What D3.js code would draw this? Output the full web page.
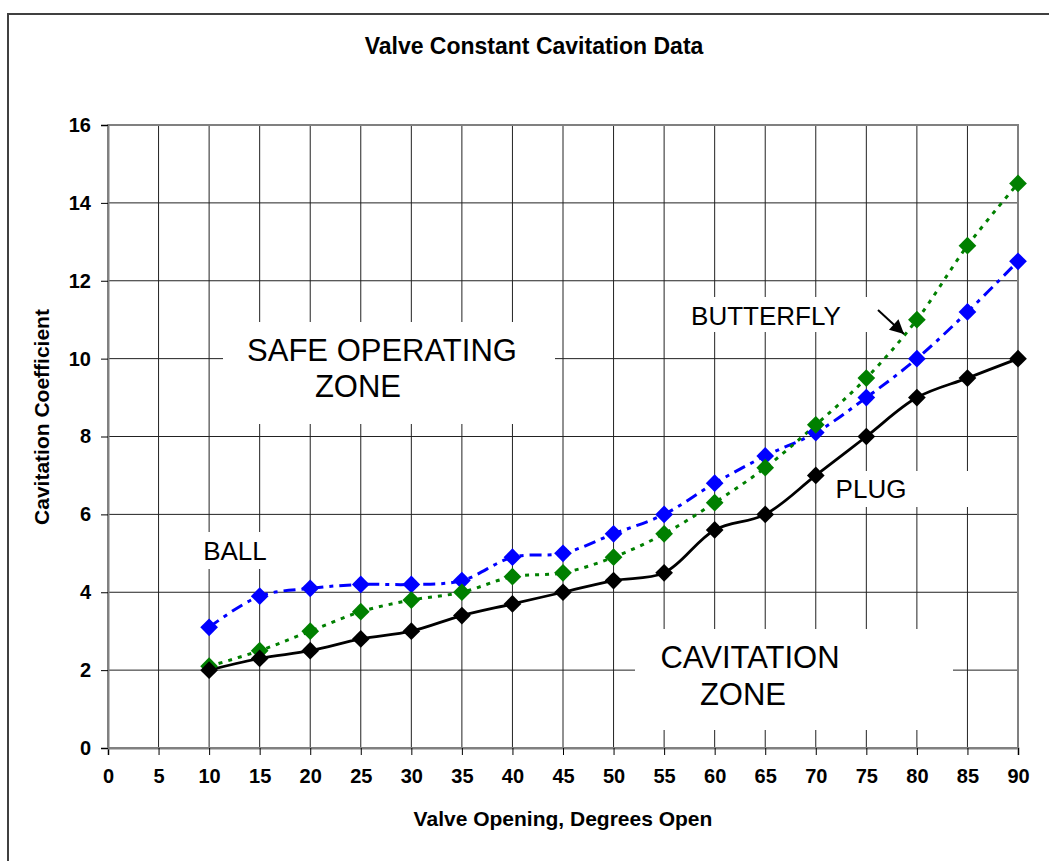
<!DOCTYPE html>
<html>
<head>
<meta charset="utf-8">
<script src="https://cdn.jsdelivr.net/npm/d3@7"></script>
<style>
  body { margin: 0; background: #fff; }
  text { font-family: "Liberation Sans", Arial, sans-serif; }
</style>
</head>
<body>
<div id="chart"></div>
<script>
// Data
const degrees = [10, 15, 20, 25, 30, 35, 40, 45, 50, 55, 60, 65, 70, 75, 80, 85, 90];
const plug = [2.0, 2.3, 2.5, 2.8, 3.0, 3.4, 3.7, 4.0, 4.3, 4.5, 5.6, 6.0, 7.0, 8.0, 9.0, 9.5, 10.0];
const butterfly = [2.1, 2.5, 3.0, 3.5, 3.8, 4.0, 4.4, 4.5, 4.9, 5.5, 6.3, 7.2, 8.3, 9.5, 11.0, 12.9, 14.5];
const ball = [3.1, 3.9, 4.1, 4.2, 4.2, 4.3, 4.9, 5.0, 5.5, 6.0, 6.8, 7.5, 8.1, 9.0, 10.0, 11.2, 12.5];
const xTicks = d3.range(0, 91, 5);
const yTicks = d3.range(0, 17, 2);

const width = 1049, height = 861;
const margin = { top: 125, right: 31, bottom: 113, left: 108 };

const svg = d3.select("#chart")
    .append("svg")
    .attr("width", width)
    .attr("height", height);

// Outer frame (right and bottom edges fall outside the picture)
svg.append("rect")
    .attr("x", 8).attr("y", 14)
    .attr("width", 1100).attr("height", 1000)
    .attr("fill", "none")
    .attr("stroke", "#404040")
    .attr("stroke-width", 2);

const x = d3.scaleLinear().domain([0, 90]).range([margin.left, width - margin.right]);
const y = d3.scaleLinear().domain([0, 16]).range([height - margin.bottom, margin.top]);

// Grid lines
svg.append("g")
    .selectAll("line")
    .data(xTicks.slice(1, -1))
    .enter()
    .append("line")
    .attr("x1", d => x(d)).attr("x2", d => x(d))
    .attr("y1", y(16)).attr("y2", y(0))
    .attr("stroke", "#222")
    .attr("stroke-width", 1);

svg.append("g")
    .selectAll("line")
    .data(yTicks.slice(1, -1))
    .enter()
    .append("line")
    .attr("x1", x(0)).attr("x2", x(90))
    .attr("y1", d => y(d)).attr("y2", d => y(d))
    .attr("stroke", "#222")
    .attr("stroke-width", 1);

// White boxes behind the annotations
const boxes = [
    { x0: 223, y0: 322, x1: 555, y1: 424 },
    { x0: 635, y0: 629, x1: 953, y1: 730 },
    { x0: 680, y0: 297, x1: 874, y1: 332 },
    { x0: 826, y0: 471, x1: 1000, y1: 507 },
    { x0: 180, y0: 532, x1: 290, y1: 569 }
];
svg.append("g")
    .selectAll("rect")
    .data(boxes)
    .enter()
    .append("rect")
    .attr("x", d => d.x0).attr("y", d => d.y0)
    .attr("width", d => d.x1 - d.x0).attr("height", d => d.y1 - d.y0)
    .attr("fill", "#fff");

// Plot border
svg.append("rect")
    .attr("x", x(0)).attr("y", y(16))
    .attr("width", x(90) - x(0)).attr("height", y(0) - y(16))
    .attr("fill", "none")
    .attr("stroke", "#808080")
    .attr("stroke-width", 2);

// Axes
const xAxis = svg.append("g")
    .attr("transform", `translate(0,${y(0)})`)
    .call(d3.axisBottom(x).tickValues(xTicks).tickSize(7).tickPadding(14));
const yAxis = svg.append("g")
    .attr("transform", `translate(${x(0)},0)`)
    .call(d3.axisLeft(y).tickValues(yTicks).tickSize(7).tickPadding(10));

[xAxis, yAxis].forEach(a => {
    a.select(".domain").attr("stroke", "#808080").attr("stroke-width", 2);
    a.selectAll(".tick line").attr("stroke", "#000");
    a.selectAll(".tick text")
        .attr("font-family", "'Liberation Sans', Arial, sans-serif")
        .attr("font-size", 20)
        .attr("font-weight", "bold")
        .attr("fill", "#000");
});

// Series
const series = [
    { name: "Ball", values: ball, color: "#0000ff", dash: "12,6,4,6", width: 3 },
    { name: "Butterfly", values: butterfly, color: "#008000", dash: "4,6", width: 3 },
    { name: "Plug", values: plug, color: "#000000", dash: null, width: 2.8 }
];

const line = d3.line()
    .x((d, i) => x(degrees[i]))
    .y(d => y(d))
    .curve(d3.curveCatmullRom.alpha(0.5));

const diamond = d3.symbol().type(d3.symbolDiamond2).size(200);

series.forEach(s => {
    svg.append("path")
        .datum(s.values)
        .attr("d", line)
        .attr("fill", "none")
        .attr("stroke", s.color)
        .attr("stroke-width", s.width)
        .attr("stroke-dasharray", s.dash);
});
series.forEach(s => {
    svg.append("g")
        .selectAll("path")
        .data(s.values)
        .enter()
        .append("path")
        .attr("d", diamond)
        .attr("transform", (d, i) => `translate(${x(degrees[i])},${y(d)})`)
        .attr("fill", s.color);
});

// Annotation text
const labels = [
    { text: "SAFE OPERATING", x: 382, y: 361, size: 31 },
    { text: "ZONE", x: 358, y: 397, size: 31 },
    { text: "CAVITATION", x: 750, y: 668, size: 31 },
    { text: "ZONE", x: 743, y: 705, size: 31 },
    { text: "BUTTERFLY", x: 766, y: 325, size: 26 },
    { text: "PLUG", x: 871, y: 498, size: 26 },
    { text: "BALL", x: 235, y: 560, size: 26 }
];
svg.append("g")
    .selectAll("text")
    .data(labels)
    .enter()
    .append("text")
    .attr("x", d => d.x).attr("y", d => d.y)
    .attr("text-anchor", "middle")
    .attr("font-size", d => d.size)
    .attr("fill", "#000")
    .text(d => d.text);

// Arrow pointing to the butterfly curve
svg.append("defs").append("marker")
    .attr("id", "arrow")
    .attr("viewBox", "0 0 10 10")
    .attr("refX", 10).attr("refY", 5)
    .attr("markerWidth", 9).attr("markerHeight", 7)
    .attr("markerUnits", "strokeWidth")
    .attr("orient", "auto")
    .append("path")
    .attr("d", "M0,0 L10,5 L0,10 Z")
    .attr("fill", "#000");

svg.append("line")
    .attr("x1", 878).attr("y1", 310)
    .attr("x2", 904).attr("y2", 334)
    .attr("stroke", "#000")
    .attr("stroke-width", 2)
    .attr("marker-end", "url(#arrow)");

// Titles
svg.append("text")
    .attr("x", 534).attr("y", 54)
    .attr("text-anchor", "middle")
    .attr("font-size", 23)
    .attr("font-weight", "bold")
    .text("Valve Constant Cavitation Data");

svg.append("text")
    .attr("x", (x(0) + x(90)) / 2).attr("y", 826)
    .attr("text-anchor", "middle")
    .attr("font-size", 21)
    .attr("font-weight", "bold")
    .text("Valve Opening, Degrees Open");

svg.append("text")
    .attr("transform", "translate(49,417) rotate(-90)")
    .attr("text-anchor", "middle")
    .attr("font-size", 21)
    .attr("font-weight", "bold")
    .text("Cavitation Coefficient");
</script>
</body>
</html>
